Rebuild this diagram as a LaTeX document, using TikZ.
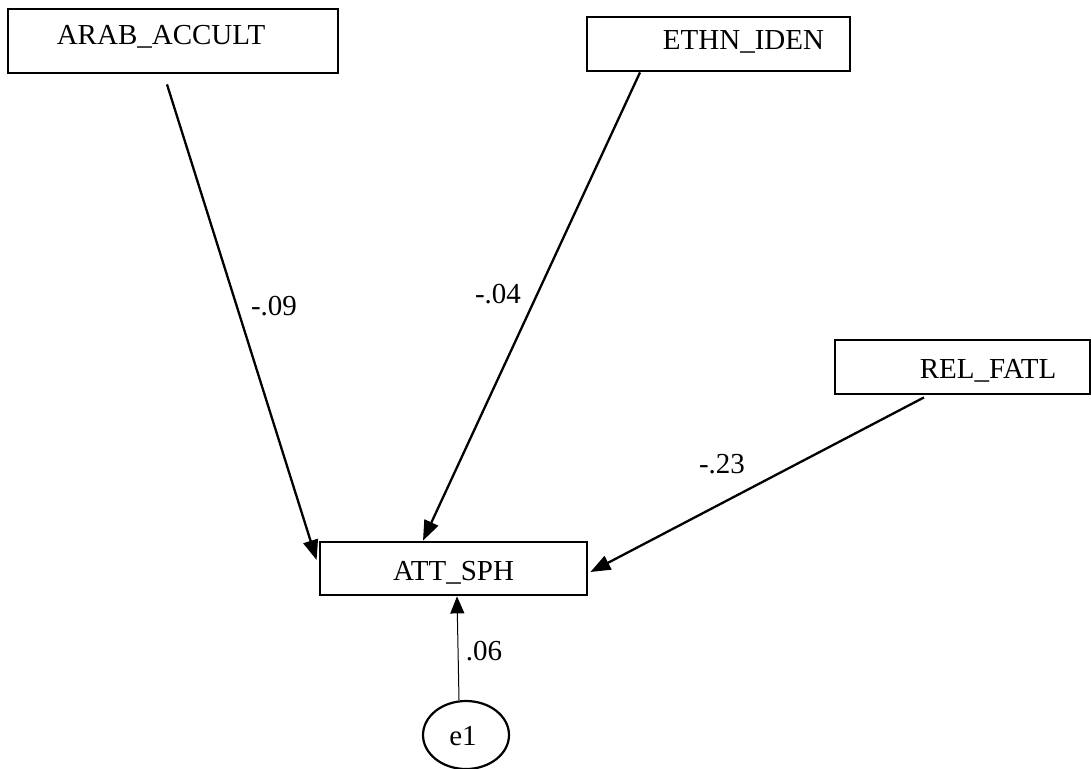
\documentclass[tikz,border=0pt]{standalone}
\usepackage{fontspec}
\setmainfont{Liberation Serif}
\usetikzlibrary{arrows.meta,shapes.geometric}
\begin{document}
\begin{tikzpicture}[x=1pt,y=-1pt,
  varbox/.style={draw,line width=2.8pt,rectangle,inner sep=0pt},
  errnode/.style={draw,line width=2.2pt,ellipse,inner sep=0pt,minimum width=86pt,minimum height=68pt},
  txt/.style={anchor=base,inner sep=0pt,font=\fontsize{29}{34}\selectfont},
  path/.style={line width=2.3pt,-{Triangle[length=20pt,width=15pt]}},
  errpath/.style={line width=1pt,-{Triangle[length=17pt,width=14pt]}}]
\useasboundingbox (0,0) rectangle (1091,768);

% observed variables
\node[varbox,minimum width=330pt,minimum height=64pt] (arab) at (173,41) {};
\node[txt] at (161,45) {ARAB\_ACCULT};
\node[varbox,minimum width=263pt,minimum height=54pt] (ethn) at (718.5,44) {};
\node[txt] at (743.5,50) {ETHN\_IDEN};
\node[varbox,minimum width=255pt,minimum height=54pt] (rel) at (962.5,367) {};
\node[txt] at (988,378) {REL\_FATL};
\node[varbox,minimum width=267pt,minimum height=53pt] (att) at (453.5,568.5) {};
\node[txt] at (453.5,580) {ATT\_SPH};

% error term
\node[errnode] (e1) at (466,735) {};
\node[txt] at (463,745) {e1};

% regression paths
\draw[path] ([xshift=-6pt,yshift=-10pt]arab.south) -- ([xshift=-2pt,yshift=8.5pt]att.west);
\draw[path] ([xshift=-78.5pt]ethn.south) -- ([xshift=-30.5pt]att.north);
\draw[path] ([xshift=-38.5pt,yshift=-2pt]rel.south) -- ([xshift=2pt,yshift=-3.5pt]att.east);
\draw[errpath] ([xshift=-7pt]e1.north) -- ([xshift=3.5pt]att.south);

% path coefficients
\node[txt] at (274,315) {-.09};
\node[txt] at (498,303) {-.04};
\node[txt] at (722,473) {-.23};
\node[txt] at (484,660) {.06};
\end{tikzpicture}
\end{document}
